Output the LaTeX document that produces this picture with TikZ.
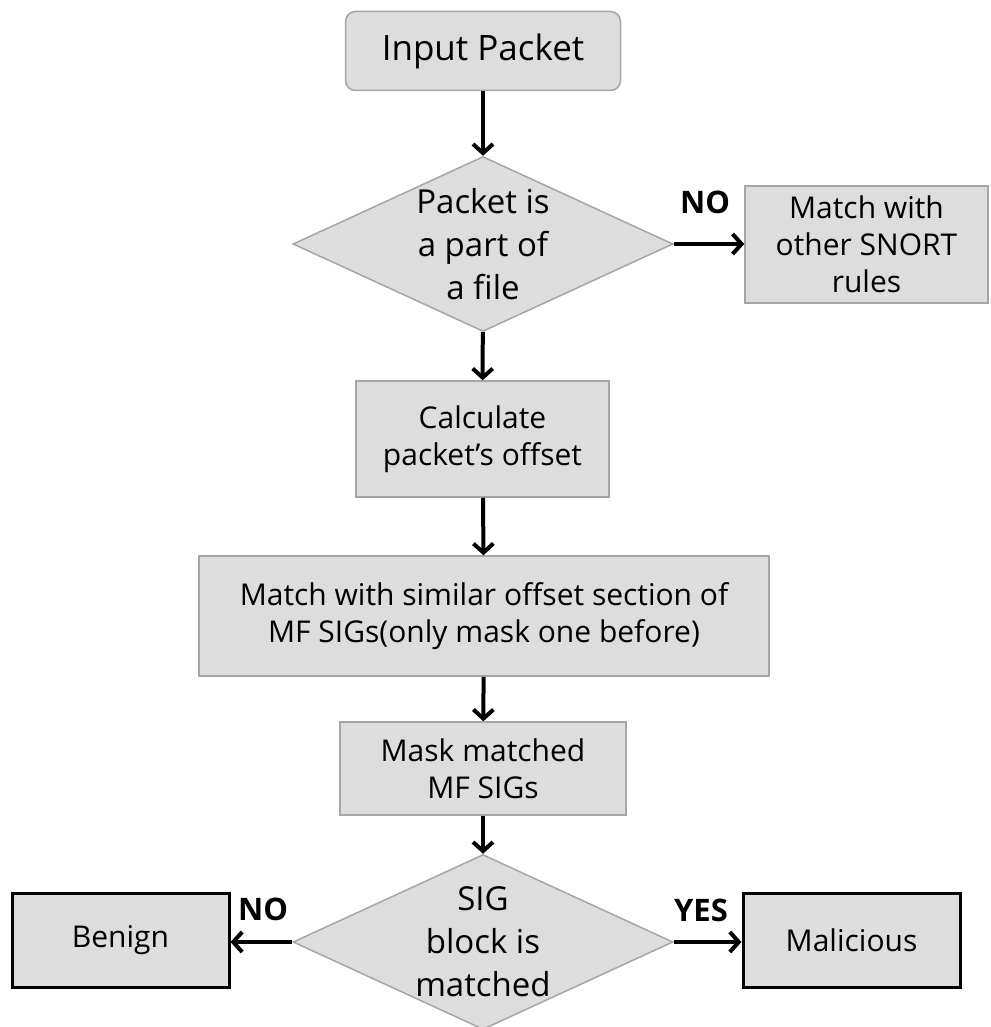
\documentclass[tikz,border=0pt]{standalone}
\usepackage{fontspec}
\setmainfont{Open Sans}
\usetikzlibrary{positioning, arrows.meta, shapes.geometric}
\definecolor{boxfill}{RGB}{221,221,221}
\definecolor{boxrule}{RGB}{166,166,166}

\begin{document}
\begin{tikzpicture}[x=1pt, y=-1pt,
    proc/.style={draw=boxrule, line width=1.5pt, fill=boxfill, inner sep=0pt,
                 align=center, font=\fontsize{30}{37}\selectfont},
    start/.style={proc, rounded corners=10pt, font=\fontsize{35}{42}\selectfont},
    verdict/.style={proc, draw=black, line width=3pt},
    decision/.style={diamond, draw=boxrule, line width=1.5pt, fill=boxfill,
                     minimum width=380pt, minimum height=175pt, inner sep=0pt},
    dtext/.style={align=center, inner sep=0pt, font=\fontsize{33}{43}\selectfont},
    flow/.style={line width=4pt, -{Straight Barb[length=9pt, width=20pt]}},
    ans/.style={inner sep=0pt, font=\fontsize{31}{31}\selectfont\bfseries}
  ]
  \useasboundingbox (0,0) rectangle (990,1027);

  \node[start, minimum width=275pt, minimum height=79pt] (input) at (483,51) {Input Packet};
  \node[decision] (isfile) at (483,244) {};
  \node[dtext] (isfiletxt) at (isfile) {Packet is\\a part of\\a file};
  \node[proc, minimum width=243pt, minimum height=117pt] (snort) at (866.5,244.5) {Match with\\other SNORT\\rules};
  \node[proc, minimum width=253pt, minimum height=116pt] (offset) at (482.5,439) {Calculate\\packet's offset};
  \node[proc, minimum width=570pt, minimum height=120pt] (simmatch) at (484,616) {Match with similar offset section of\\MF SIGs(only mask one before)};
  \node[proc, minimum width=286pt, minimum height=93pt] (mask) at (483,768.5) {Mask matched\\MF SIGs};
  \node[decision] (isblock) at (483,942) {};
  \node[dtext] (isblocktxt) at (isblock) {SIG\\block is\\matched};
  \node[verdict, minimum width=217pt, minimum height=94pt] (benign) at (120.5,940) {Benign};
  \node[verdict, minimum width=217pt, minimum height=94pt] (malicious) at (851.5,940) {Malicious};

  \draw[flow] (input) -- (isfile);
  \draw[flow] (isfile) -- (offset);
  \draw[flow] (offset) -- (simmatch);
  \draw[flow] (simmatch) -- (mask);
  \draw[flow] (mask) -- (isblock);
  \draw[flow] (isfile.east) -- (isfile.east -| snort.west);
  \draw[flow] (isblock.west) -- (isblock.west -| benign.east);
  \draw[flow] (isblock.east) -- (isblock.east -| malicious.west);

  \node[ans] (nofile) at (705,202) {NO};
  \node[ans] (noblock) at (263,909) {NO};
  \node[ans] (yesblock) at (701,910) {YES};
\end{tikzpicture}
\end{document}
